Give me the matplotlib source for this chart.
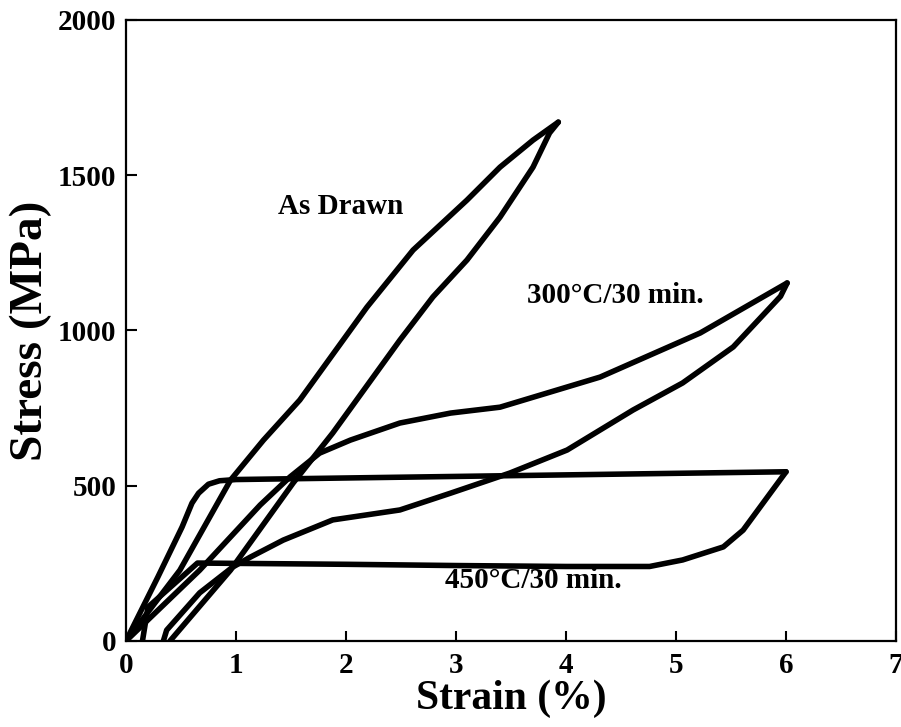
import matplotlib
matplotlib.use("Agg")
import matplotlib.pyplot as plt

plt.rcParams['font.family'] = ['Liberation Serif', 'DejaVu Serif']
plt.rcParams['font.weight'] = 'bold'

# As Drawn
ad_load_x = [0, 0.49, 0.95, 1.25, 1.58, 2.19, 2.61, 3.1, 3.4, 3.7, 3.93]
ad_load_y = [0, 228, 518, 647, 776, 1075, 1259, 1420, 1526, 1613, 1671]
ad_unload_x = [3.93, 3.85, 3.7, 3.4, 3.1, 2.79, 2.49, 1.88, 1.52, 0.95, 0.4]
ad_unload_y = [1671, 1636, 1526, 1365, 1227, 1108, 969, 670, 509, 228, 0]

# 300C / 30 min
t300_load_x = [0, 0.67, 1.22, 1.49, 1.76, 2.04, 2.49, 2.95, 3.4, 4.31, 5.22, 6.01]
t300_load_y = [0, 228, 438, 528, 605, 647, 702, 734, 753, 850, 992, 1153]
t300_unload_x = [6.01, 5.95, 5.52, 5.06, 4.61, 4.01, 3.49, 2.95, 2.49, 1.88, 1.43, 1.13, 0.97, 0.67, 0.37, 0.34]
t300_unload_y = [1153, 1110, 947, 831, 744, 615, 541, 476, 422, 390, 325, 270, 238, 155, 35, 0]

# 450C / 30 min
t450_load_x = [0, 0.29, 0.51, 0.6, 0.66, 0.75, 0.85, 1.0, 2.0, 3.0, 4.0, 5.0, 6.0]
t450_load_y = [0, 206, 367, 444, 476, 505, 516, 520, 525, 530, 535, 540, 545]
t450_unload_x = [6.0, 5.61, 5.43, 5.06, 4.76, 4.0, 3.0, 2.0, 1.0, 0.65, 0.2, 0.15]
t450_unload_y = [545, 357, 303, 261, 240, 240, 243, 247, 250, 251, 109, 0]

fig = plt.figure(figsize=(9.01, 7.27), dpi=100)
ax = fig.add_axes([0.1398, 0.1183, 0.8547, 0.8542])

lw = 4.0
for xs, ys in [(ad_load_x, ad_load_y), (ad_unload_x, ad_unload_y),
               (t300_load_x, t300_load_y), (t300_unload_x, t300_unload_y),
               (t450_load_x, t450_load_y), (t450_unload_x, t450_unload_y)]:
    ax.plot(xs, ys, color='black', lw=lw, solid_joinstyle='round', solid_capstyle='round')

ax.set_xlim(0, 7)
ax.set_ylim(0, 2000)
ax.set_xticks([0, 1, 2, 3, 4, 5, 6, 7])
ax.set_yticks([0, 500, 1000, 1500, 2000])
ax.tick_params(axis='x', direction='in', length=7, width=1.5, pad=8, labelsize=21)
ax.tick_params(axis='y', direction='in', length=8, width=1.5, pad=7, labelsize=21)
for s in ax.spines.values():
    s.set_linewidth(1.6)

ax.set_xlabel("Strain (%)", fontsize=30, fontweight='bold', labelpad=0)
ax.set_ylabel("Stress (MPa)", fontsize=34, fontweight='bold', labelpad=4)

ax.text(1.95, 1400, "As Drawn", fontsize=21, fontweight='bold', ha='center', va='center')
ax.text(4.45, 1114, "300°C/30 min.", fontsize=21, fontweight='bold', ha='center', va='center')
ax.text(3.7, 196, "450°C/30 min.", fontsize=21, fontweight='bold', ha='center', va='center')

fig.savefig("out.png", dpi=100)
